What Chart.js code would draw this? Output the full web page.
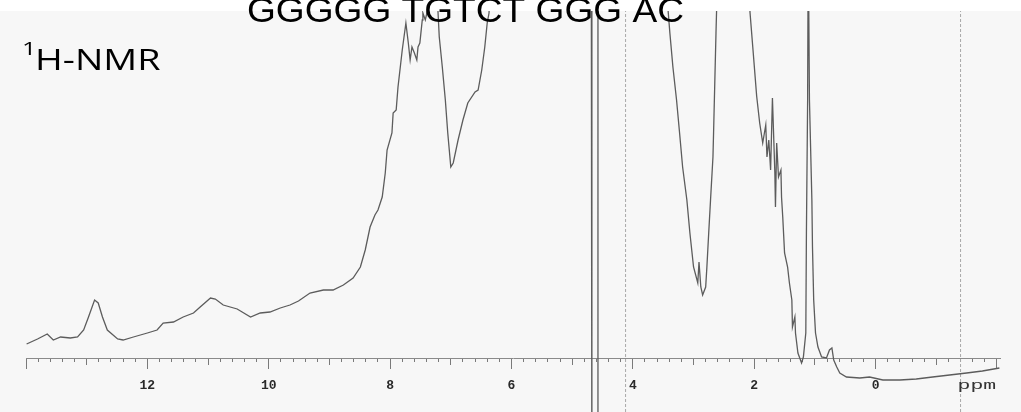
<!DOCTYPE html>
<html>
<head>
<meta charset="utf-8">
<script src="https://cdn.jsdelivr.net/npm/chart.js@4.4.0/dist/chart.umd.min.js"></script>
<style>
  html, body { margin: 0; padding: 0; background: #fff; }
  canvas { display: block; }
</style>
</head>
<body>
<canvas id="nmr_chart" width="1021" height="412"></canvas>
<script>
// 1H-NMR trace, chemical shift (ppm) against intensity
var shiftPpm = [
  13.99, 13.81, 13.65, 13.55, 13.43, 13.27, 13.15, 13.05, 12.97, 12.87,
  12.81, 12.74, 12.66, 12.49, 12.40, 12.23, 12.00, 11.84, 11.74, 11.57,
  11.41, 11.24, 11.13, 10.96, 10.88, 10.75, 10.52, 10.30, 10.14, 9.98,
  9.81, 9.65, 9.51, 9.32, 9.10, 8.94, 8.77, 8.61, 8.49, 8.41,
  8.33, 8.25, 8.20, 8.13, 8.08, 8.05, 7.97, 7.95, 7.90, 7.87,
  7.80, 7.74, 7.70, 7.67, 7.64, 7.60, 7.56, 7.54, 7.51, 7.47,
  7.46, 7.42, 7.39, 7.36, 7.24, 7.21, 7.19, 7.14, 7.09, 7.05,
  7.00, 6.96, 6.88, 6.80, 6.72, 6.60, 6.55, 6.49, 6.44, 6.40,
  6.37, 6.32, 4.685, 4.675, 4.585, 4.575, 3.43, 3.42, 3.39, 3.34,
  3.28, 3.23, 3.18, 3.11, 3.06, 3.00, 2.93, 2.91, 2.88, 2.85,
  2.80, 2.78, 2.75, 2.72, 2.68, 2.67, 2.65, 2.63, 2.62, 2.60,
  2.09, 2.07, 2.02, 1.96, 1.91, 1.86, 1.81, 1.79, 1.76, 1.73,
  1.70, 1.66, 1.65, 1.63, 1.60, 1.56, 1.55, 1.53, 1.50, 1.45,
  1.42, 1.38, 1.37, 1.33, 1.32, 1.28, 1.22, 1.19, 1.15, 1.14,
  1.12, 1.11, 1.09, 1.05, 1.04, 1.02, 0.99, 0.95, 0.89, 0.81,
  0.76, 0.72, 0.69, 0.64, 0.59, 0.48, 0.26, 0.10, -0.12, -0.40,
  -0.67, -0.94, -1.22, -1.50, -1.76, -2.04
];
var intensity = [
  14, 19, 24, 18, 21, 20, 21, 28, 41, 58,
  55, 41, 28, 19, 18, 21, 25, 28, 35, 36,
  41, 45, 51, 60, 59, 53, 49, 41, 45, 46,
  50, 53, 57, 65, 68, 68, 73, 80, 91, 108,
  131, 143, 148, 161, 185, 208, 225, 245, 248, 271,
  308, 335, 315, 298, 311, 305, 298, 311, 315, 338,
  345, 338, 346, 420, 420, 345, 321, 291, 258, 225,
  191, 195, 218, 238, 255, 266, 268, 288, 311, 335,
  345, 420, 420, -150, -150, 420, 420, 348, 325, 291,
  258, 225, 191, 158, 125, 91, 75, 96, 71, 63,
  71, 91, 125, 158, 201, 225, 275, 325, 348, 420,
  420, 346, 308, 262, 235, 215, 233, 201, 218, 188,
  260, 185, 151, 215, 181, 188, 161, 141, 105, 91,
  75, 58, 31, 41, 25, 5, -5, 1, 25, 125,
  258, 420, 258, 158, 111, 58, 25, 11, 1, 0,
  8, 10, -2, -9, -15, -19, -20, -19, -22, -22,
  -21, -19, -17, -15, -13, -10
];
// dashed reference lines
var markerPpm = [4.12, -1.40];
// shifts that carry a number under the axis
var labelledPpm = [12, 10, 8, 6, 4, 2, 0];
var titleText = "GGGGG TGTCT GGG AC";

var yMin = -54, yMax = 347;
var ppmMin = -2.05, ppmMax = 14.0;

var spectrum = [];
for (var i = 0; i < shiftPpm.length; i++) {
    spectrum.push({x: shiftPpm[i], y: intensity[i]});
}

var markerSets = markerPpm.map(function (p) {
    return {
        data: [{x: p, y: yMin}, {x: p, y: yMax}],
        borderColor: "#a8a8a8",
        borderWidth: 1,
        borderDash: [3, 2],
        pointRadius: 0,
        xAxisID: "x"
    };
});

// draws text squeezed/stretched sideways
function wideText(ctx, txt, x, y, font, sx) {
    ctx.save();
    ctx.translate(x, y);
    ctx.scale(sx, 1);
    ctx.font = font;
    ctx.fillText(txt, 0, 0);
    ctx.restore();
}

// page background and plot texts
var nmrDecor = {
    id: "nmrDecor",
    beforeDraw: function (chart) {
        var ctx = chart.ctx;
        ctx.save();
        ctx.fillStyle = "#ffffff";
        ctx.fillRect(0, 0, chart.width, chart.height);
        ctx.fillStyle = "#f7f7f7";
        ctx.fillRect(0, chart.chartArea.top, chart.width, chart.height - chart.chartArea.top);
        ctx.restore();
    },
    afterDraw: function (chart) {
        var ctx = chart.ctx;
        ctx.save();
        ctx.fillStyle = "#000";
        ctx.textBaseline = "alphabetic";
        wideText(ctx, titleText, 247, 22, '35px "Liberation Sans"', 1.06);

        wideText(ctx, "H-NMR", 35, 70, '29px "Open Sans"', 1.3);
        wideText(ctx, "1", 22, 55, '18px "Open Sans"', 1.4);

        ctx.fillStyle = "#333";
        var px = chart.scales.x.getPixelForValue(-1.35);
        wideText(ctx, "ppm", px, 389, '13px "Liberation Mono"', 1.65);
        ctx.restore();
    }
};

function ppmAxis(step, len, withLabels) {
    return {
        type: "linear",
        axis: "x",
        reverse: true,
        min: ppmMin,
        max: ppmMax,
        position: {y: 0},
        border: {display: withLabels, color: "#8a8a8a", width: 1},
        grid: {
            display: true,
            drawOnChartArea: false,
            drawTicks: true,
            tickLength: len,
            tickColor: "#7a7a7a",
            tickWidth: 1
        },
        ticks: {
            display: withLabels,
            stepSize: step,
            includeBounds: false,
            autoSkip: false,
            maxRotation: 0,
            padding: 10,
            color: "#2a2a2a",
            font: {family: "Liberation Mono", size: 13, weight: "bold"},
            callback: function (v) {
                return labelledPpm.indexOf(Math.round(v * 10) / 10) >= 0 ? String(Math.round(v)) : "";
            }
        }
    };
}

var ctx1 = document.getElementById("nmr_chart");
var nmrChart = new Chart(ctx1, {
    type: "line",
    data: {
        datasets: [{
            data: spectrum,
            borderColor: "#5c5c5c",
            borderWidth: 1.3,
            pointRadius: 0,
            tension: 0,
            xAxisID: "x"
        }].concat(markerSets)
    },
    options: {
        responsive: false,
        animation: false,
        layout: {padding: {left: 26, right: 21, top: 11, bottom: 0}},
        plugins: {
            legend: {display: false},
            tooltip: {enabled: false}
        },
        scales: {
            x: ppmAxis(0.2, 4, false),
            xMid: ppmAxis(1, 7, false),
            xMajor: ppmAxis(2, 10, true),
            y: {
                type: "linear",
                display: false,
                min: yMin,
                max: yMax
            }
        }
    },
    plugins: [nmrDecor]
});
</script>
</body>
</html>
